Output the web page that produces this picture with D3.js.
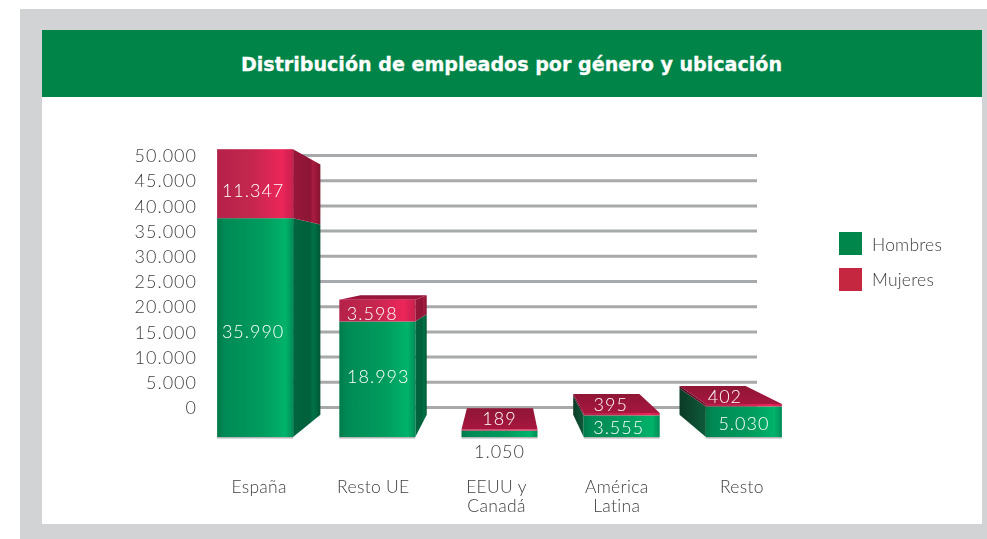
<!DOCTYPE html>
<html>
<head>
<meta charset="utf-8">
<script src="https://cdn.jsdelivr.net/npm/d3@7"></script>
<style>
    html, body { margin: 0; padding: 0; background: #fff; }
    svg { display: block; }
    text { font-family: Lato, "Open Sans", sans-serif; font-weight: 300; }
</style>
</head>
<body>
<div id="chart"></div>
<script>
const categories = [['España'], ['Resto UE'], ['EEUU y', 'Canadá'], ['América', 'Latina'], ['Resto']];
const hombres = [35990, 18993, 1050, 3555, 5030];
const mujeres = [11347, 3598, 189, 395, 402];
const tickValues = [0, 5000, 10000, 15000, 20000, 25000, 30000, 35000, 40000, 45000, 50000];
const legendLabels = ['Hombres', 'Mujeres'];

// label nudges from the centre of each segment, the source places them by hand
const HOMBRES_NUDGE = [[-2, 4], [1, -3], [0, 18], [-3, 2], [0, 2]];
const MUJERES_NUDGE = [[-2, 7], [-5, 3], [0, -11], [-11, -9], [-19, -8]];
const CATEGORY_NUDGE = [4, -4, -3, -5, -2];

const WIDTH = 987;
const HEIGHT = 539;
const GRAY = '#d1d3d4';
const HEADER_GREEN = '#008448';
const LEGEND_GREEN = '#00854a';
const LEGEND_RED = '#c4273f';
const TEXT_COLOR = '#404040';

const svg = d3.select('#chart').append('svg')
    .attr('width', WIDTH)
    .attr('height', HEIGHT)
    .attr('viewBox', [0, 0, WIDTH, HEIGHT]);

const defs = svg.append('defs');

function addGradient(id, stops, vertical) {
    defs.append('linearGradient')
        .attr('id', id)
        .attr('x1', 0).attr('y1', 0)
        .attr('x2', vertical ? 0 : 1).attr('y2', vertical ? 1 : 0)
        .selectAll('stop')
        .data(stops)
        .join('stop')
        .attr('offset', d => d[0])
        .attr('stop-color', d => d[1]);
}

addGradient('front-h', [[0, '#007a4b'], [0.1, '#008a55'], [0.6, '#009c5e'], [0.9, '#00b36b'], [1, '#008d57']]);
addGradient('front-m', [[0, '#b5234a'], [0.45, '#c4264e'], [0.85, '#ec2659'], [1, '#c8204e']]);
addGradient('side-h', [[0, '#00663f'], [0.6, '#00613c'], [0.75, '#007248'], [1, '#005735']]);
addGradient('side-m', [[0, '#98183a'], [0.6, '#8d1636'], [0.75, '#a81c40'], [1, '#84122f']]);
addGradient('left-h', [[0, '#0a3b27'], [1, '#0c5a39']]);
addGradient('left-m', [[0, '#4a1020'], [1, '#7a1230']]);
addGradient('top-m', [[0, '#8f1235'], [1, '#a8143f']], true);

defs.append('filter').attr('id', 'soft')
    .append('feGaussianBlur').attr('stdDeviation', 0.45);
defs.append('filter').attr('id', 'soft-text')
    .append('feGaussianBlur').attr('stdDeviation', 0.25);

// frame and header
svg.append('rect').attr('x', 20).attr('y', 9).attr('width', WIDTH - 20).attr('height', HEIGHT - 9).attr('fill', GRAY);
svg.append('rect').attr('x', 42).attr('y', 30).attr('width', 940).attr('height', 494).attr('fill', '#fff');
svg.append('rect').attr('x', 42).attr('y', 30).attr('width', 940).attr('height', 67).attr('fill', HEADER_GREEN);

svg.append('text')
    .attr('x', 511.5)
    .attr('y', 70.5)
    .attr('text-anchor', 'middle')
    .attr('fill', '#fff')
    .attr('stroke', '#fff')
    .attr('stroke-width', 0.3)
    .style('font-family', '"DejaVu Sans", sans-serif')
    .style('font-weight', 700)
    .style('font-size', '19.1px')
    .text('Distribución de empleados por género y ubicación');

// wall of the 3d box: gridlines and tick labels
const GRID_RIGHT = 757;
const GRID_LEFT = 218;
const AXIS_X = 197;
const thousands = d3.formatLocale({ decimal: ',', thousands: '.', grouping: [3], currency: ['', ''] }).format(',');

const yWall = d3.scaleLinear().domain([0, 50000]).range([407, 155]);

const gridAxis = svg.append('g')
    .attr('transform', `translate(${GRID_RIGHT},0)`)
    .attr('filter', 'url(#soft)')
    .call(d3.axisLeft(yWall).tickValues(tickValues).tickSize(GRID_RIGHT - GRID_LEFT).tickFormat(''));
gridAxis.select('.domain').remove();
gridAxis.selectAll('line')
    .attr('stroke', '#a8a9aa')
    .attr('stroke-width', 3);

const labelAxis = svg.append('g')
    .attr('transform', `translate(${AXIS_X},1)`)
    .attr('filter', 'url(#soft-text)')
    .call(d3.axisLeft(yWall).tickValues(tickValues).tickSize(0).tickPadding(0).tickFormat(thousands));
labelAxis.select('.domain').remove();
labelAxis.selectAll('text')
    .attr('fill', TEXT_COLOR)
    .style('font-family', 'Lato, sans-serif')
    .style('font-size', '18px')
    .style('letter-spacing', '1px');

// front plane of the bars, with a one point perspective behind it
const BASE_Y = 437;
const VANISH_X = 503;
const VANISH_Y = 266;
const DEPTH = 0.13;

const x = d3.scaleBand()
    .domain(d3.range(categories.length))
    .range([194, 805])
    .paddingInner(0.378)
    .paddingOuter(0.189);

const y = d3.scaleLinear().domain([0, 50000]).range([BASE_Y, BASE_Y - 304]);

const back = (px, py) => [px + (VANISH_X - px) * DEPTH, py + (VANISH_Y - py) * DEPTH];
const quad = pts => pts.map(p => p.join(',')).join(' ');

const segments = [];
categories.forEach((c, i) => {
    segments.push({ i, key: 'h', y0: 0, y1: hombres[i], value: hombres[i], nudge: HOMBRES_NUDGE[i] });
    segments.push({ i, key: 'm', y0: hombres[i], y1: hombres[i] + mujeres[i], value: mujeres[i], nudge: MUJERES_NUDGE[i] });
});

const barsLayer = svg.append('g').attr('filter', 'url(#soft)');

// soft shadow on the floor
barsLayer.selectAll('.floor')
    .data(categories)
    .join('rect')
    .attr('class', 'floor')
    .attr('x', (d, i) => x(i))
    .attr('y', BASE_Y)
    .attr('width', x.bandwidth())
    .attr('height', 1.5)
    .attr('fill', '#b5b6b7');

function sidePoints(d) {
    const x0 = x(d.i);
    const x1 = x0 + x.bandwidth();
    const px = x1 < VANISH_X ? x1 : x0;
    const top = y(d.y1);
    const bot = y(d.y0);
    return [[px, top], back(px, top), back(px, bot), [px, bot]];
}

// side faces exist only when the bar sits fully on one side of the vanishing point
barsLayer.selectAll('.side')
    .data(segments.filter(d => x(d.i) > VANISH_X || x(d.i) + x.bandwidth() < VANISH_X))
    .join('polygon')
    .attr('class', 'side')
    .attr('points', d => quad(sidePoints(d)))
    .attr('fill', d => {
        const onRight = x(d.i) + x.bandwidth() < VANISH_X;
        return `url(#${onRight ? 'side' : 'left'}-${d.key})`;
    });

// top face shows only when the top is below eye level
barsLayer.selectAll('.top')
    .data(segments.filter(d => d.key === 'm' && y(d.y1) > VANISH_Y))
    .join('polygon')
    .attr('class', 'top')
    .attr('points', d => {
        const x0 = x(d.i);
        const x1 = x0 + x.bandwidth();
        const top = y(d.y1);
        return quad([[x0, top], back(x0, top), back(x1, top), [x1, top]]);
    })
    .attr('fill', 'url(#top-m)');

barsLayer.selectAll('.front')
    .data(segments)
    .join('rect')
    .attr('class', 'front')
    .attr('x', d => x(d.i))
    .attr('y', d => y(d.y1))
    .attr('width', x.bandwidth())
    .attr('height', d => y(d.y0) - y(d.y1))
    .attr('fill', d => `url(#front-${d.key})`);

// value labels
const textLayer = svg.append('g').attr('filter', 'url(#soft-text)');

textLayer.selectAll('.value')
    .data(segments)
    .join('text')
    .attr('class', 'value')
    .attr('x', d => x(d.i) + x.bandwidth() / 2 + d.nudge[0])
    .attr('y', d => (y(d.y0) + y(d.y1)) / 2 + d.nudge[1])
    .attr('dy', '0.35em')
    .attr('text-anchor', 'middle')
    .attr('fill', d => (d.key === 'h' && d.value === 1050 ? TEXT_COLOR : '#fff'))
    .style('font-size', '18px')
    .style('letter-spacing', '1px')
    .text(d => thousands(d.value));

// category labels
const categoryLabels = textLayer.selectAll('.category')
    .data(categories)
    .join('text')
    .attr('class', 'category')
    .attr('text-anchor', 'middle')
    .attr('fill', TEXT_COLOR)
    .style('font-size', '17.5px')
    .style('letter-spacing', '0.3px');

categoryLabels.selectAll('tspan')
    .data((d, i) => d.map(line => ({ line, i })))
    .join('tspan')
    .attr('x', d => x(d.i) + x.bandwidth() / 2 + CATEGORY_NUDGE[d.i])
    .attr('y', (d, j) => 493 + j * 19)
    .text(d => d.line);

// legend
const legendColors = d3.scaleOrdinal().domain(legendLabels).range([LEGEND_GREEN, LEGEND_RED]);
const legendY = d3.scalePoint().domain(legendLabels).range([232, 268]);

svg.selectAll('.legend-swatch')
    .data(legendLabels)
    .join('rect')
    .attr('class', 'legend-swatch')
    .attr('x', 839)
    .attr('y', d => legendY(d))
    .attr('width', 23)
    .attr('height', 23)
    .attr('fill', d => legendColors(d));

textLayer.selectAll('.legend-label')
    .data(legendLabels)
    .join('text')
    .attr('class', 'legend-label')
    .attr('x', 872)
    .attr('y', (d, i) => legendY(d) + 19 - i)
    .attr('fill', TEXT_COLOR)
    .style('font-size', '17.5px')
    .style('letter-spacing', '0.2px')
    .text(d => d);
</script>
</body>
</html>
